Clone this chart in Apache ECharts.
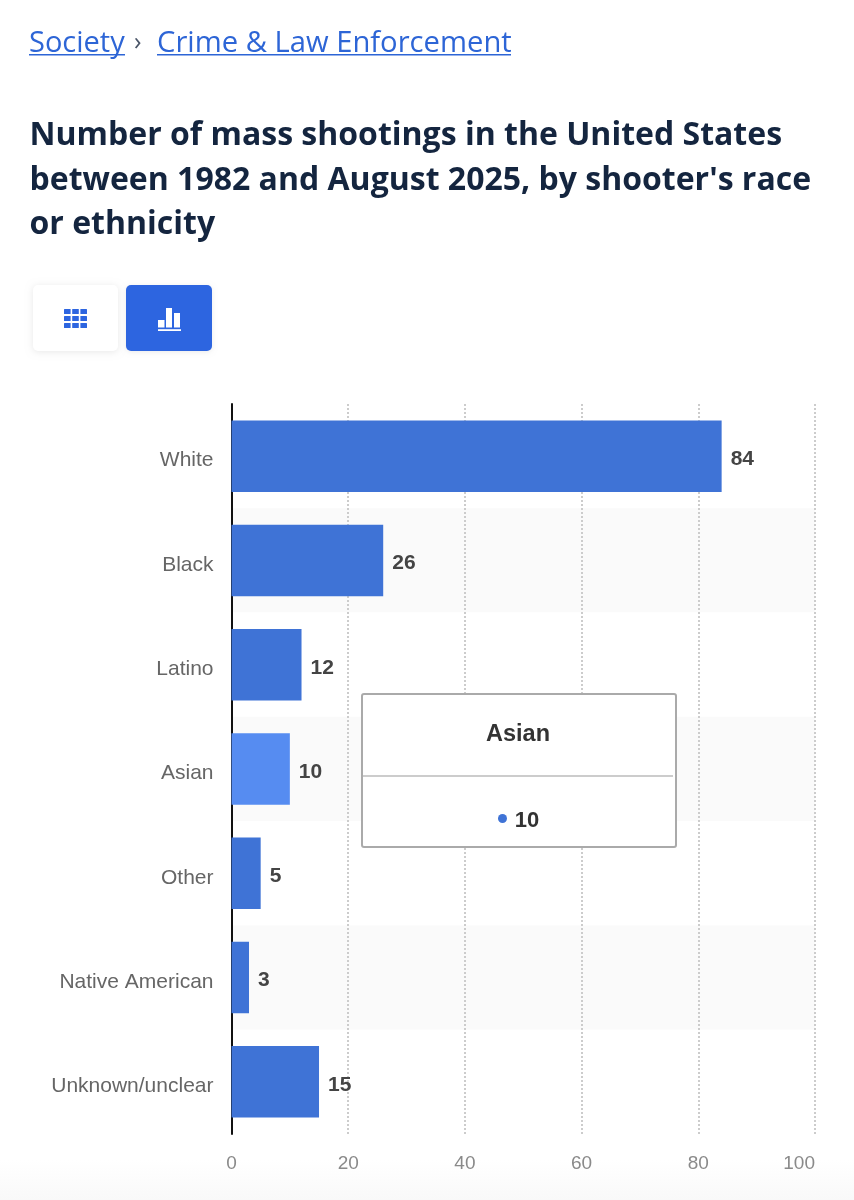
<!DOCTYPE html>
<html>
<head>
<meta charset="utf-8">
<style>html,body{margin:0;padding:0;background:#fff}#c{width:854px;height:1200px}</style>
<script src="https://cdn.jsdelivr.net/npm/echarts@6/dist/echarts.min.js"></script>
</head>
<body>
<div id="c"></div>
<script>
const categories = ["White","Black","Latino","Asian","Other","Native American","Unknown/unclear"];
const values = [84,26,12,10,5,3,15];
const highlighted = "Asian";
const titleLines = ["Number of mass shootings in the United States","between 1982 and August 2025, by shooter's race","or ethnicity"];
const crumbs = ["Society","Crime & Law Enforcement"];

const BAR = "#3f73d6", BAR_HI = "#568cf1", BLUE = "#2d65e0", NAVY = "#14253f";
const chart = echarts.init(document.getElementById("c"), null, {renderer:"canvas", width:854, height:1200});

const txt = (x,y,text,font,fill) => ({type:"text",x,y,silent:true,style:{text,font,fill}});
const rect = (x,y,w,h,fill,r) => ({type:"rect",x,y,silent:true,shape:{width:w,height:h,r:r||0},style:{fill}});

const graphics = [
  {type:"rect",x:0,y:1160,z:-1,silent:true,shape:{width:854,height:40},style:{fill:new echarts.graphic.LinearGradient(0,0,0,1,[{offset:0,color:"#ffffff"},{offset:1,color:"#f9f9f9"}])}},
  txt(29,29,crumbs[0],"400 29px 'Open Sans'","#2d65d6"),
  rect(29,54,96,1.5,"#2d65d6"),
  txt(134,30,"›","400 25px 'Open Sans'","#4a5568"),
  txt(157,29,crumbs[1],"400 29.2px 'Open Sans'","#2d65d6"),
  rect(157,54,354,1.5,"#2d65d6"),
  ...titleLines.map((t,i)=>txt(29.5,120+i*44.5,t,"700 32px 'Open Sans'",NAVY)),
  {type:"rect",x:33,y:285,silent:true,shape:{width:85,height:66,r:5},style:{fill:"#fff",shadowBlur:7,shadowColor:"rgba(0,0,0,0.09)",shadowOffsetY:1}},
  {type:"rect",x:126,y:285,silent:true,shape:{width:86,height:66,r:5},style:{fill:BLUE,shadowBlur:5,shadowColor:"rgba(0,0,0,0.08)",shadowOffsetY:1}}
];
[0,1,2].forEach(r=>[0,1,2].forEach(c=>graphics.push(rect(64+c*8.2,309+r*7,6.6,5,BLUE,0.5))));
graphics.push(rect(158,320,6.5,7.5,"#fff"),rect(166,308,6,19.5,"#fff"),rect(174,313,6,14.5,"#fff"),rect(158,329.2,23,1.8,"#fff"));

chart.setOption({
  animation:false,
  backgroundColor:"#fff",
  graphic:graphics,
  grid:{left:231.5,width:583.5,top:404,height:730,containLabel:false},
  tooltip:{
    trigger:"item",
    show:true,
    alwaysShowContent:true,
    showDelay:0,
    transitionDuration:0,
    backgroundColor:"#fff",
    borderColor:"#aaaaaa",
    borderWidth:2,
    borderRadius:3,
    padding:0,
    position:[361,693],
    extraCssText:"box-shadow:none;width:316px;height:155px;box-sizing:border-box;",
    formatter:p=>`<div style="font:700 23.5px 'Liberation Sans';color:#333;text-align:center;height:80px;line-height:76px;border-bottom:2px solid #ccc;margin:0 2px 0 0">${p.name}</div>`+
      `<div style="font:700 22px 'Liberation Sans';color:#333;text-align:center;line-height:86px"><span style="display:inline-block;width:9px;height:9px;border-radius:50%;background:${BAR};margin-right:8px;margin-left:-1px;vertical-align:4px"></span>${p.value}</div>`
  },
  xAxis:{
    type:"value",min:0,max:100,interval:20,
    axisLine:{show:false},axisTick:{show:false},
    axisLabel:{color:"#8a8a8a",fontSize:19,fontFamily:"Liberation Sans",margin:20,alignMaxLabel:"right"},
    splitLine:{show:true,lineStyle:{color:"#cccccc",type:[2,2],width:2}}
  },
  yAxis:{
    type:"category",data:categories,inverse:true,
    axisLine:{show:true,onZero:false,lineStyle:{color:"#111",width:2}},
    axisTick:{show:false},
    axisLabel:{color:"#666",fontSize:21,fontFamily:"Liberation Sans",margin:18,verticalAlign:"top",lineHeight:9},
    splitArea:{show:true,areaStyle:{color:["#ffffff","#fafafa"]}}
  },
  series:[{
    type:"bar",
    barWidth:71.5,
    data:categories.map((c,i)=>({name:c,value:values[i],itemStyle:{color:c===highlighted?BAR_HI:BAR}})),
    emphasis:{disabled:true},
    label:{show:true,position:"right",distance:9,offset:[0,3],color:"#444",fontSize:21,fontWeight:"bold",fontFamily:"Liberation Sans"}
  }]
});
chart.dispatchAction({type:"showTip",seriesIndex:0,dataIndex:categories.indexOf(highlighted)});
</script>
</body>
</html>
